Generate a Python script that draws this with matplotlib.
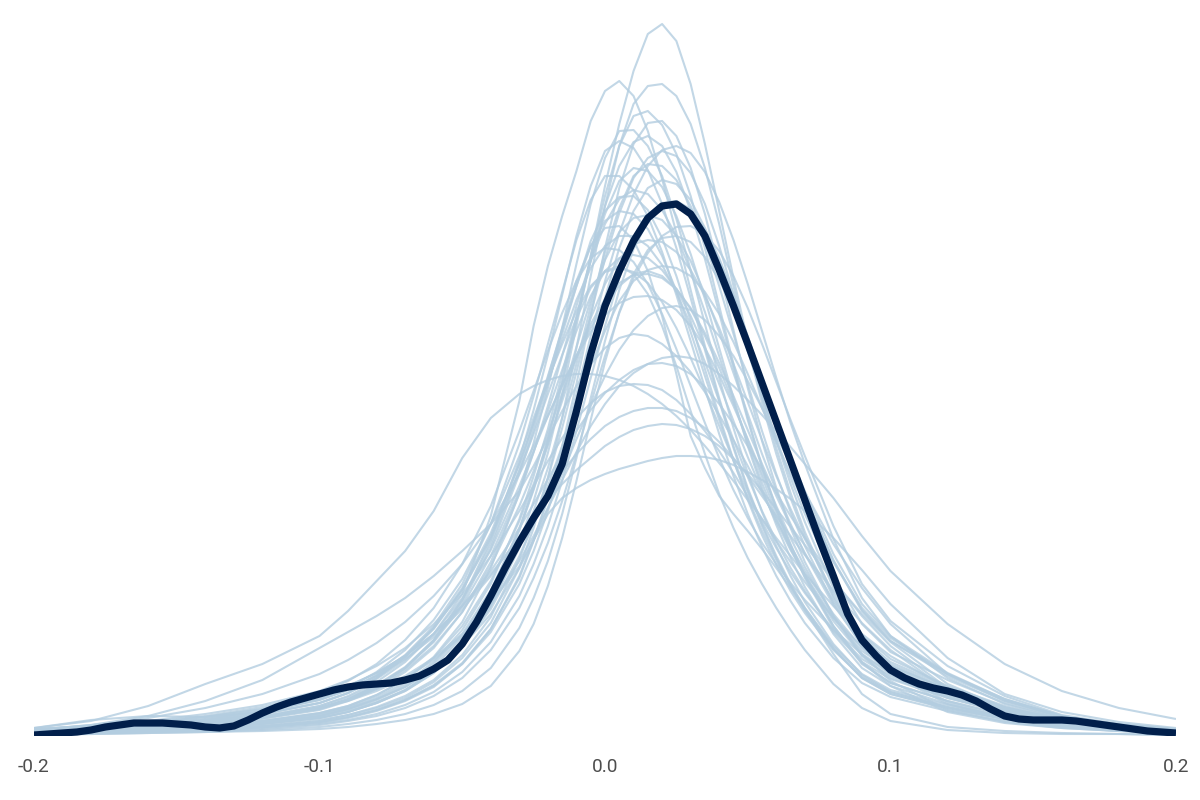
import matplotlib
matplotlib.use("Agg")
import matplotlib.pyplot as plt

# ---------------- data ----------------
# observed density (y), evaluated on a 0.005 grid
y_x = [-0.200, -0.195, -0.190, -0.185, -0.180, -0.175, -0.170, -0.165, -0.160, -0.155,
       -0.150, -0.145, -0.140, -0.135, -0.130, -0.125, -0.120, -0.115, -0.110, -0.105,
       -0.100, -0.095, -0.090, -0.085, -0.080, -0.075, -0.070, -0.065, -0.060, -0.055,
       -0.050, -0.045, -0.040, -0.035, -0.030, -0.025, -0.020, -0.015, -0.010, -0.005,
       0.000, 0.005, 0.010, 0.015, 0.020, 0.025, 0.030, 0.035, 0.040, 0.045,
       0.050, 0.055, 0.060, 0.065, 0.070, 0.075, 0.080, 0.085, 0.090, 0.095,
       0.100, 0.105, 0.110, 0.115, 0.120, 0.125, 0.130, 0.135, 0.140, 0.145,
       0.150, 0.155, 0.160, 0.165, 0.170, 0.175, 0.180, 0.185, 0.190, 0.195, 0.200]
y_dens = [1, 2, 3, 4, 6, 9, 11, 13, 13, 13,
          12, 11, 9, 8, 10, 16, 23, 29, 34, 38,
          42, 46, 49, 51, 52, 53, 56, 60, 67, 76,
          92, 114, 140, 168, 194, 218, 240, 272, 325, 382,
          430, 465, 495, 518, 530, 532, 522, 500, 466, 430,
          392, 353, 314, 275, 236, 197, 160, 122, 96, 80,
          66, 58, 52, 48, 45, 41, 35, 27, 20, 17,
          16, 16, 16, 15, 13, 11, 9, 7, 5, 4, 3]

# replicated densities (yrep), evaluated on a shared grid
rep_x = [-0.20, -0.18, -0.16, -0.14, -0.12, -0.10,
         -0.09, -0.08, -0.07, -0.06, -0.05, -0.04, -0.03,
         -0.025, -0.02, -0.015, -0.01, -0.005, 0.0,
         0.005, 0.01, 0.015, 0.02, 0.025, 0.03,
         0.035, 0.04, 0.045, 0.05, 0.055, 0.06,
         0.065, 0.07, 0.08, 0.09, 0.10,
         0.12, 0.14, 0.16, 0.18, 0.20]

yrep_01 = [3,4,6,9,13,20, 26,34,46,64,90,130,192, 235,283,342,410,480,550, 612,665,702,712,695,652, 592,525,458,395,338,288, 243,204,140,95,70, 46,28,16,9,5]
yrep_02 = [4,6,9,13,19,30, 40,54,74,102,142,220,335, 410,470,520,565,615,645, 655,640,605,557,503,446, 390,338,290,248,212,180, 152,128,88,58,42, 27,17,10,6,3]
yrep_03 = [2,3,5,7,10,16, 21,28,38,54,78,113,168, 208,258,318,388,460,530, 590,632,650,652,640,612, 568,512,450,390,333,282, 238,200,138,92,68, 44,27,15,9,5]
yrep_04 = [3,4,6,9,13,20, 27,36,49,69,99,144,208, 248,295,352,416,480,540, 590,620,625,611,582,540, 488,430,372,318,270,228, 192,160,110,73,53, 35,21,12,7,4]
yrep_05 = [2,3,4,6,9,14, 19,26,36,51,73,107,158, 195,238,290,352,420,488, 548,592,613,615,600,568, 522,466,406,348,295,248, 208,174,120,80,58, 39,23,13,7,4]
yrep_06 = [4,5,7,10,15,23, 30,41,56,79,114,168,243, 293,348,408,472,532,578, 605,606,590,560,517,466, 412,358,308,263,224,190, 160,134,92,61,44, 29,18,10,6,3]
yrep_07 = [5,7,10,14,20,30, 39,51,69,96,136,196,276, 326,381,441,500,550,585, 595,588,566,532,488,438, 386,335,288,246,210,178, 150,126,87,58,42, 28,17,10,6,3]
yrep_08 = [3,4,6,8,12,18, 24,33,45,63,89,130,188, 225,268,318,372,430,484, 528,560,572,570,556,530, 494,450,402,352,305,262, 224,190,133,90,66, 43,25,14,8,4]
yrep_09 = [3,5,7,10,14,22, 29,39,53,74,106,152,217, 260,307,362,420,476,522, 555,568,565,549,520,482, 437,388,338,290,248,211, 178,149,102,68,50, 32,19,11,6,3]
yrep_10 = [6,8,11,16,24,36, 46,61,81,110,152,212,292, 340,392,444,496,536,560, 560,546,520,484,441,395, 348,302,260,222,189,160, 135,113,78,53,39, 25,15,9,5,3]
yrep_11 = [2,3,5,7,10,15, 21,29,40,56,81,119,177, 214,258,308,364,422,477, 523,558,578,585,580,563, 532,490,442,392,342,295, 252,214,148,100,72, 47,28,15,9,5]
yrep_12 = [2,3,4,6,9,13, 18,25,35,49,72,107,160, 196,238,287,342,400,455, 503,542,570,586,590,583, 564,534,496,452,405,358, 313,272,197,138,100, 58,32,17,10,6]
yrep_13 = [3,4,6,8,12,18, 24,33,46,65,95,140,206, 248,298,355,416,475,530, 570,594,600,590,564,525, 477,423,368,316,268,226, 190,158,108,72,53, 35,21,12,7,4]
yrep_14 = [2,3,4,6,9,14, 19,26,36,50,72,104,152, 185,225,272,325,382,438, 488,525,548,556,552,536, 508,472,430,385,340,297, 258,222,160,112,84, 56,33,18,10,6]
yrep_15 = [4,6,8,12,17,26, 35,47,64,88,124,174,242, 284,330,380,430,475,512, 537,546,542,526,500,465, 424,380,335,292,253,218, 187,160,115,81,62, 41,25,14,8,4]
yrep_16 = [2,3,4,5,8,12, 16,22,31,44,64,94,140, 172,210,255,305,358,410, 458,495,520,533,535,527, 507,478,441,400,357,315, 276,240,175,125,95, 62,37,20,11,6]
yrep_17 = [8,16,20,19,24,36, 46,60,80,108,146,200,272, 314,360,406,450,490,515, 525,522,507,480,445,404, 360,316,275,238,205,176, 150,128,90,62,46, 31,19,11,7,4]
yrep_18 = [3,4,6,9,13,20, 27,37,51,72,102,146,206, 246,291,339,389,436,476, 504,518,521,516,500,475, 442,404,363,322,282,245, 212,182,131,92,70, 47,28,16,9,5]
yrep_19 = [2,3,4,5,7,11, 15,20,28,40,58,86,128, 158,193,235,282,332,380, 423,458,483,500,509,510, 502,485,460,428,392,354, 316,280,210,152,115, 70,40,21,12,7]
yrep_20 = [5,7,10,15,22,33, 43,58,79,108,148,203,272, 313,354,396,436,468,490, 500,500,490,471,444,411, 374,335,296,259,225,195, 168,145,104,74,57, 38,23,13,7,4]
yrep_21 = [3,5,7,10,15,23, 30,41,56,78,110,155,215, 252,292,335,378,418,452, 477,492,496,494,484,466, 440,408,372,334,296,260, 227,197,143,101,77, 50,30,16,9,5]
yrep_22 = [7,10,14,20,29,43, 55,72,96,128,172,230,305, 345,385,423,455,478,488, 486,474,452,422,387,350, 313,278,246,218,193,172, 153,136,106,82,63, 38,25,16,9,5]
yrep_23 = [4,6,9,13,19,28, 37,50,68,94,130,180,245, 284,325,366,405,440,465, 478,481,478,466,447,420, 388,352,315,279,245,214, 186,161,118,85,66, 43,26,14,8,4]
yrep_24 = [3,4,6,8,12,18, 24,33,45,63,89,127,180, 213,250,290,330,370,405, 435,455,466,470,468,460, 444,422,394,362,328,294, 262,232,174,128,98, 62,36,19,11,6]
yrep_25 = [6,8,12,17,25,37, 48,64,86,116,157,212,280, 318,356,392,425,450,464, 468,464,453,434,408,378, 345,310,276,244,214,188, 164,143,106,77,60, 40,24,13,7,4]
yrep_26 = [4,6,8,12,18,27, 36,48,66,90,124,170,230, 265,303,342,380,412,437, 453,461,462,458,447,428, 403,373,340,306,272,240, 210,183,135,97,74, 49,29,16,9,5]
yrep_27 = [4,6,9,13,19,28, 37,50,68,95,133,188,262, 305,352,402,450,495,525, 539,540,526,498,460,415, 367,320,276,236,201,171, 145,123,86,59,44, 29,17,10,6,3]
yrep_28 = [2,2,3,4,6,9, 12,16,22,31,45,68,108, 138,175,222,278,338,395, 446,487,515,528,530,523, 504,476,440,399,356,314, 275,240,176,126,95, 60,35,19,11,6]
yrep_29 = [1,2,3,4,5,7, 9,12,16,22,32,50,85, 112,150,198,255,316,374, 424,462,486,498,500,494, 479,456,426,391,353,315, 279,245,182,132,100, 63,37,20,11,6]
yrep_30 = [8,15,30,52,72,100, 125,155,185,225,278,318,342, 350,356,360,362,362,360, 356,350,342,332,320,306, 290,273,255,236,217,198, 180,162,130,102,80, 48,28,17,10,6]
yrep_31 = [6,11,20,35,56,88, 104,120,138,160,185,212,245, 270,298,325,350,372,388, 398,402,400,392,380,364, 344,321,296,270,243,216, 190,165,122,88,62, 32,17,10,6,4]
yrep_32 = [6,9,13,19,27,40, 50,63,80,102,130,165,208, 232,257,282,305,326,343, 356,366,372,373,370,362, 349,332,312,290,267,243, 220,198,156,120,90, 48,25,14,8,5]
yrep_33 = [7,10,15,22,31,45, 56,70,88,112,142,180,225, 250,275,298,318,333,344, 350,352,351,346,336,322, 305,285,263,240,217,195, 174,154,118,89,66, 34,18,10,6,4]
yrep_34 = [5,8,12,17,25,37, 47,60,77,99,127,160,200, 222,244,264,282,297,310, 319,325,328,328,325,318, 308,294,278,260,240,220, 200,181,145,113,86, 46,24,13,8,5]
yrep_35 = [6,9,13,19,27,40, 50,63,80,102,130,162,198, 218,236,252,266,278,290, 299,306,310,312,311,307, 300,290,277,262,245,227, 209,191,155,122,94, 52,28,15,9,5]
yrep_36 = [3,5,8,12,18,28, 36,47,60,78,102,133,170, 196,222,238,248,256,262, 267,271,275,278,280,280, 279,276,271,264,256,247, 237,225,198,166,132, 78,42,24,14,8]
yrep_37 = [4,6,9,13,19,28, 35,45,58,76,100,132,175, 200,228,256,284,310,332, 350,363,372,378,380,378, 372,362,350,336,321,305, 289,272,238,200,165, 112,72,45,28,17]
yrep_38 = [3,5,7,10,15,22, 28,37,49,66,90,122,168, 196,228,262,297,330,360, 386,406,420,428,430,426, 416,400,380,355,328,300, 272,244,192,148,112, 62,35,20,12,7]
yrep_39 = [5,7,10,15,22,33, 43,57,76,102,138,186,250, 285,320,352,380,404,421, 433,439,440,436,426,410, 388,361,330,297,263,230, 198,169,120,82,55, 26,14,8,5,3]
yrep_40 = [6,11,18,28,42,62, 76,93,114,140,172,212,262, 290,320,350,380,408,432, 450,462,465,460,447,427, 400,368,333,296,259,223, 190,160,110,74,50, 24,13,8,5,3]
yrep_41 = [4,6,8,12,18,27, 36,49,68,96,136,192,266, 310,358,408,455,490,508, 510,496,465,420,362,300, 268,240,222,205,187,168, 148,126,82,42,22, 9,5,3,2,1]
yrep_42 = [5,7,10,15,22,33, 43,58,79,107,146,198,265, 302,342,381,418,448,465, 470,462,442,410,370,325, 282,242,208,178,152,128, 106,86,52,28,15, 6,3,2,2,1]

yrep_list = [yrep_01, yrep_02, yrep_03, yrep_04, yrep_05, yrep_06, yrep_07, yrep_08,
             yrep_09, yrep_10, yrep_11, yrep_12, yrep_13, yrep_14, yrep_15, yrep_16,
             yrep_17, yrep_18, yrep_19, yrep_20, yrep_21, yrep_22, yrep_23, yrep_24,
             yrep_25, yrep_26, yrep_27, yrep_28, yrep_29, yrep_30, yrep_31, yrep_32,
             yrep_33, yrep_34, yrep_35, yrep_36, yrep_37, yrep_38, yrep_39, yrep_40,
             yrep_41, yrep_42]

tick_values = [-0.2, -0.1, 0.0, 0.1, 0.2]
tick_labels = ["-0.2", "-0.1", "0.0", "0.1", "0.2"]

# ---------------- plot ----------------
plt.rcParams['font.family'] = ['Roboto', 'DejaVu Sans']

fig = plt.figure(figsize=(12, 8), dpi=100)
ax = fig.add_axes([34 / 1200, 64 / 800, (1176 - 34) / 1200, 736 / 800])

for rep in yrep_list:
    ax.plot(rep_x, rep, color="#b3cde0", alpha=0.8, lw=1.5,
            solid_capstyle="butt", solid_joinstyle="round", zorder=2)

ax.plot(y_x, y_dens, color="#011f4b", lw=5.2,
        solid_capstyle="butt", solid_joinstyle="round", zorder=3)

ax.set_xlim(-0.2, 0.2)
ax.set_ylim(0, 736)
ax.set_xticks(tick_values)
ax.set_xticklabels(tick_labels)
ax.set_yticks([])
for s in ax.spines.values():
    s.set_visible(False)
ax.tick_params(axis="x", length=0, pad=16, labelsize=13.7, labelcolor="#4d4d4d")
ax.patch.set_alpha(0)

fig.savefig("out.png", dpi=100, facecolor="white")
